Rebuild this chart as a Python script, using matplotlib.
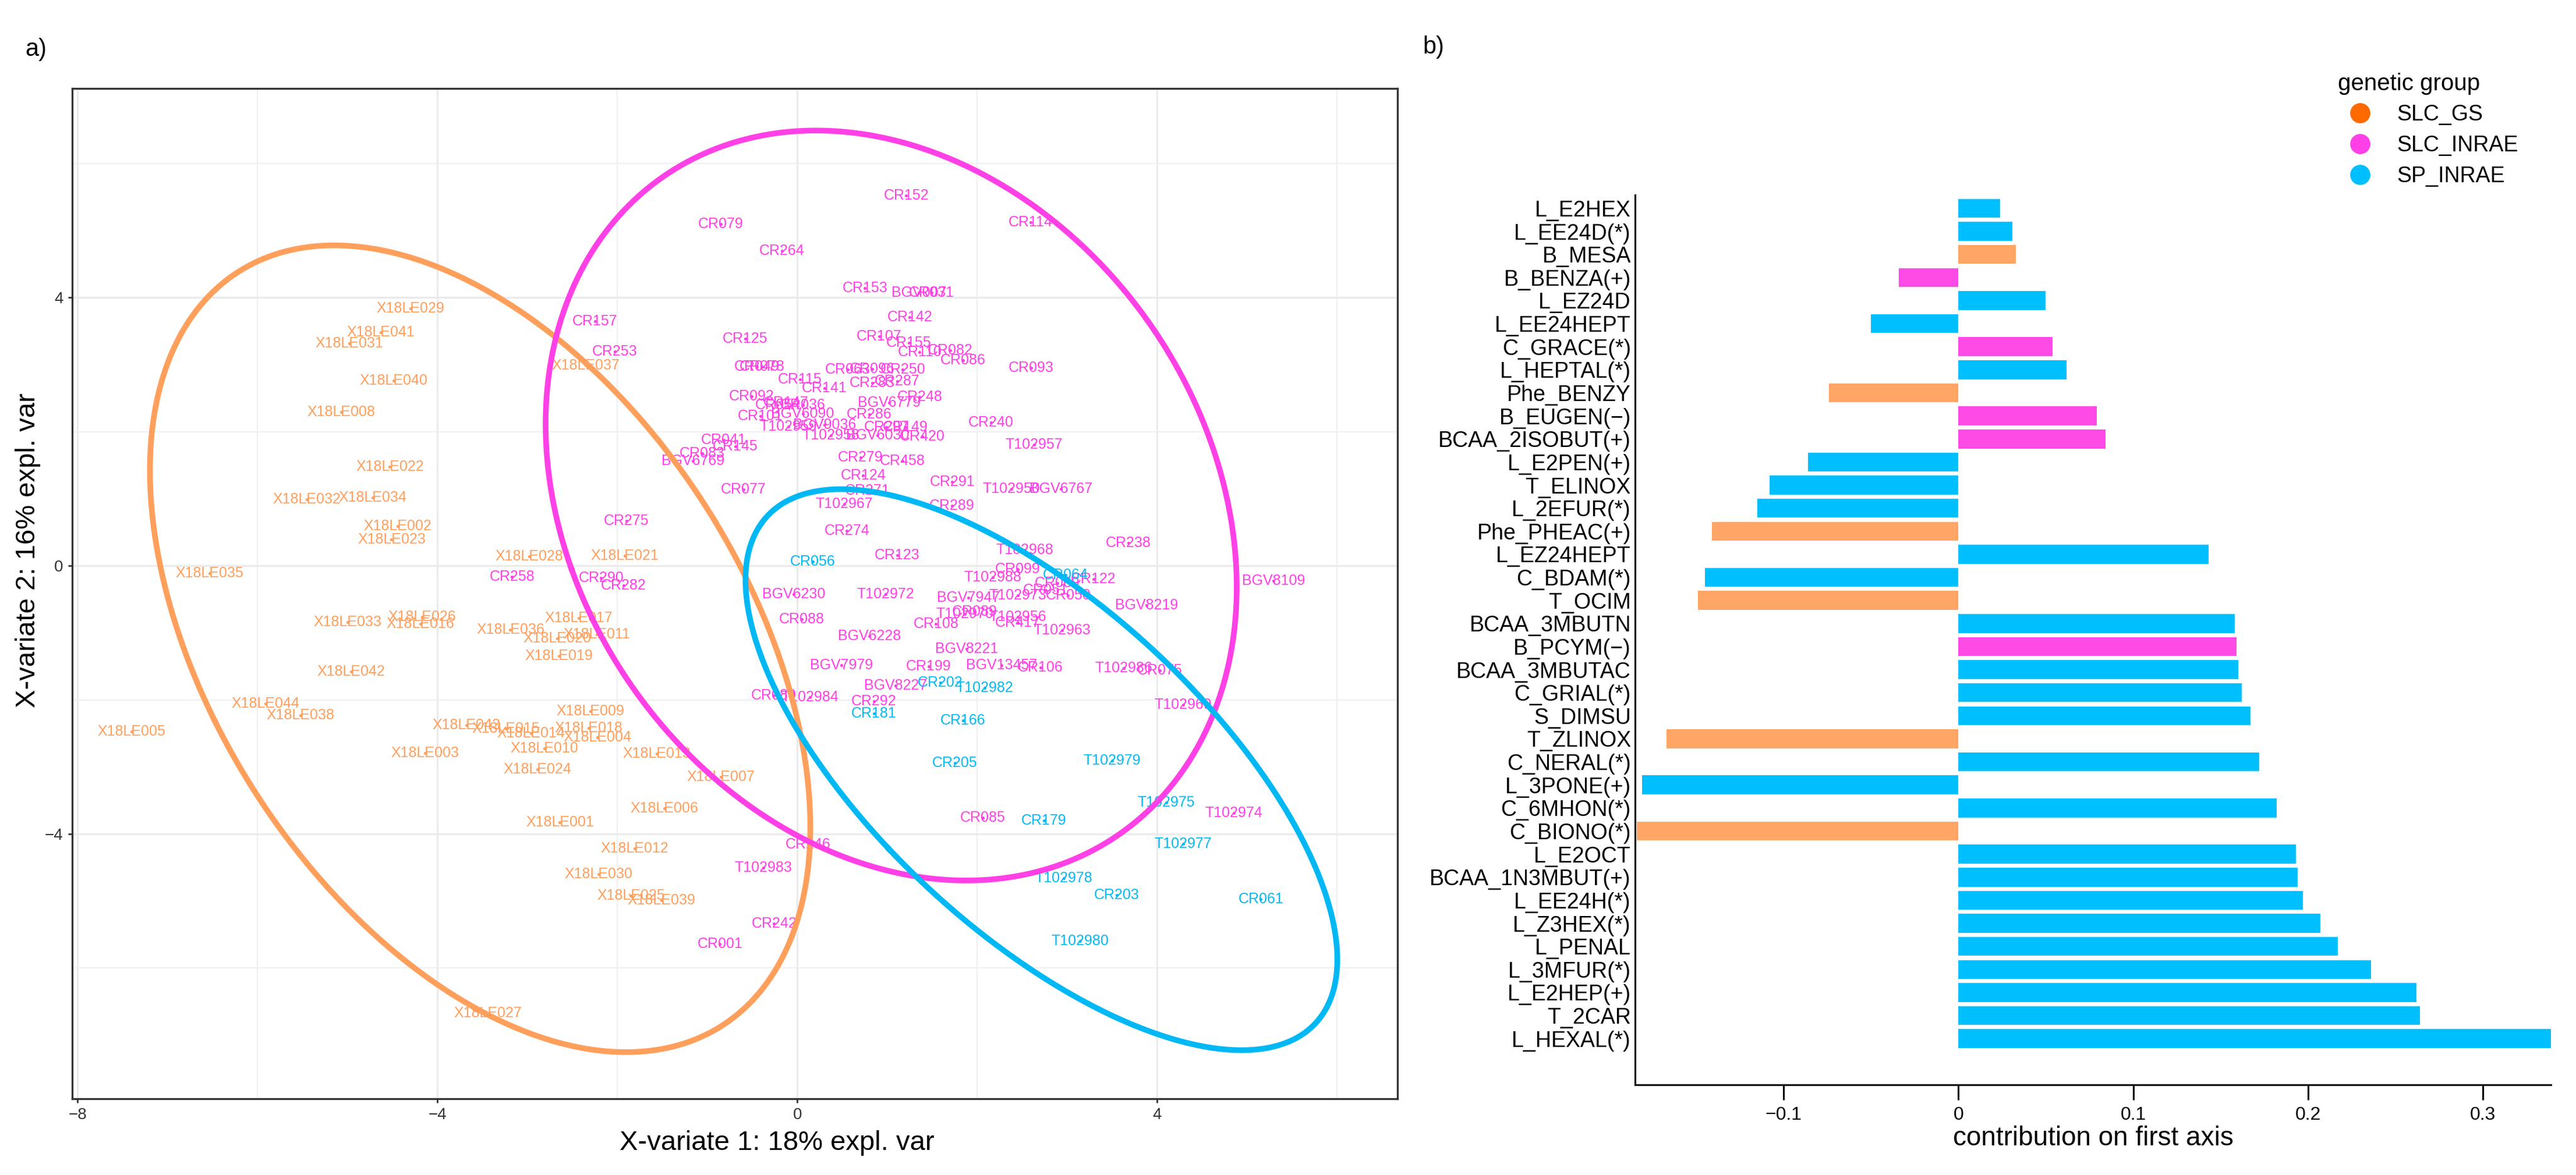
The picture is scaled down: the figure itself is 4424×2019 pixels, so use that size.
import numpy as np
import matplotlib
matplotlib.use("Agg")
import matplotlib.pyplot as plt
from matplotlib.lines import Line2D

plt.rcParams['font.family'] = ['Liberation Sans', 'DejaVu Sans']

# ---- panel a: individuals on the first two X-variates ----
GROUPS = ["SLC_GS", "SLC_INRAE", "SP_INRAE"]

gs_names = ["X18LE029", "X18LE041", "X18LE031", "X18LE037", "X18LE040", "X18LE008",
            "X18LE022", "X18LE032", "X18LE034", "X18LE002", "X18LE023", "X18LE028",
            "X18LE021", "X18LE035", "X18LE033", "X18LE026", "X18LE016", "X18LE036",
            "X18LE017", "X18LE011", "X18LE020", "X18LE019", "X18LE042", "X18LE044",
            "X18LE038", "X18LE005", "X18LE043", "X18LE015", "X18LE014", "X18LE018",
            "X18LE009", "X18LE004", "X18LE003", "X18LE010", "X18LE013", "X18LE024",
            "X18LE007", "X18LE006", "X18LE001", "X18LE012", "X18LE030", "X18LE025",
            "X18LE039", "X18LE027"]
gs_x = [-4.30, -4.63, -4.98, -2.35, -4.49, -5.07, -4.53, -5.45, -4.72, -4.44, -4.51, -2.98,
        -1.92, -6.53, -5.00, -4.17, -4.19, -3.19, -2.43, -2.23, -2.67, -2.65, -4.96, -5.91,
        -5.52, -7.40, -3.68, -3.24, -2.96, -2.32, -2.30, -2.22, -4.14, -2.81, -1.56, -2.89,
        -0.85, -1.48, -2.64, -1.81, -2.21, -1.85, -1.51, -3.44]
gs_y = [3.84, 3.48, 3.32, 2.99, 2.76, 2.29, 1.48, 0.99, 1.02, 0.59, 0.39, 0.14,
        0.15, -0.11, -0.84, -0.76, -0.87, -0.95, -0.78, -1.02, -1.08, -1.34, -1.58, -2.06,
        -2.23, -2.47, -2.38, -2.43, -2.50, -2.42, -2.17, -2.56, -2.79, -2.72, -2.80, -3.04,
        -3.15, -3.62, -3.83, -4.22, -4.60, -4.92, -4.99, -6.67]

inrae_names = ["CR079", "CR264", "CR152", "CR114", "CR153", "BGV007", "CR031", "CR142",
               "CR157", "CR253", "CR125", "CR107", "CR155", "CR110", "CR082", "CR086",
               "CR093", "CR049", "CR078", "CR115", "CR141", "CR063", "CR096", "CR250",
               "CR283", "CR287", "CR248", "BGV6779", "CR092", "CR147", "CR054", "CR036",
               "CR101", "BGV6090", "CR286", "T102959", "BGV9036", "T102958", "BGV6030",
               "CR297", "CR149", "CR420", "CR240", "T102957", "CR041", "CR145", "CR083",
               "BGV6769", "CR279", "CR458", "CR124", "CR291", "T102950", "BGV6767", "CR077",
               "CR271", "T102967", "CR289", "CR274", "CR275", "CR238", "T102968", "CR123",
               "CR258", "CR290", "CR282", "BGV8109", "CR099", "T102988", "CR122", "CR069",
               "CR051", "T102973", "CR050", "BGV7947", "BGV8219", "CR089", "T102970",
               "T102956", "CR417", "T102963", "CR108", "T102972", "BGV6230", "CR088",
               "BGV6228", "BGV8221", "BGV7979", "CR199", "BGV13457", "CR106", "T102986",
               "CR075", "BGV8227", "T102969", "CR292", "CR080", "T102984", "CR085",
               "T102974", "CR246", "T102983", "CR242", "CR001"]
inrae_x = [-0.85, -0.17, 1.21, 2.59, 0.75, 1.35, 1.49, 1.25, -2.25, -2.03, -0.58, 0.91,
           1.24, 1.36, 1.70, 1.84, 2.60, -0.45, -0.39, 0.03, 0.30, 0.56, 0.83, 1.17,
           0.83, 1.11, 1.36, 1.02, -0.51, -0.13, -0.22, 0.06, -0.41, 0.06, 0.80, -0.10,
           0.30, 0.37, 0.89, 0.99, 1.20, 1.39, 2.15, 2.63, -0.82, -0.69, -1.06, -1.16,
           0.70, 1.17, 0.73, 1.72, 2.38, 2.93, -0.60, 0.78, 0.52, 1.72, 0.55, -1.90,
           3.68, 2.53, 1.11, -3.17, -2.18, -1.93, 5.29, 2.45, 2.17, 3.29, 2.89, 2.76,
           2.45, 3.01, 1.90, 3.88, 1.97, 1.86, 2.45, 2.45, 2.94, 1.54, 0.98, -0.04,
           0.05, 0.80, 1.88, 0.49, 1.46, 2.27, 2.70, 3.63, 4.03, 1.09, 4.29, 0.85,
           -0.26, 0.14, 2.06, 4.85, 0.12, -0.38, -0.26, -0.86]
inrae_y = [5.10, 4.70, 5.52, 5.12, 4.14, 4.07, 4.07, 3.71, 3.65, 3.20, 3.39, 3.42,
           3.33, 3.19, 3.21, 3.07, 2.95, 2.97, 2.97, 2.78, 2.65, 2.93, 2.94, 2.93,
           2.73, 2.75, 2.52, 2.43, 2.53, 2.43, 2.40, 2.40, 2.23, 2.27, 2.26, 2.08,
           2.10, 1.95, 1.95, 2.07, 2.07, 1.93, 2.14, 1.81, 1.88, 1.78, 1.68, 1.56,
           1.62, 1.56, 1.35, 1.25, 1.15, 1.15, 1.14, 1.12, 0.92, 0.90, 0.52, 0.67,
           0.34, 0.24, 0.16, -0.16, -0.18, -0.29, -0.22, -0.05, -0.17, -0.20, -0.26, -0.36,
           -0.44, -0.44, -0.48, -0.59, -0.68, -0.72, -0.76, -0.85, -0.96, -0.87, -0.42, -0.42,
           -0.80, -1.05, -1.24, -1.48, -1.50, -1.48, -1.52, -1.53, -1.56, -1.79, -2.07, -2.02,
           -1.93, -1.96, -3.76, -3.69, -4.16, -4.50, -5.34, -5.64]

sp_names = ["CR056", "CR064", "CR202", "T102982", "CR181", "CR166", "CR205", "T102979",
            "T102975", "CR179", "T102977", "T102978", "CR203", "CR061", "T102980"]
sp_x = [0.17, 2.98, 1.59, 2.08, 0.85, 1.84, 1.75, 3.50, 4.10, 2.74, 4.29, 2.96, 3.55, 5.15, 3.14]
sp_y = [0.06, -0.14, -1.74, -1.82, -2.20, -2.31, -2.94, -2.91, -3.53, -3.80, -4.15, -4.66,
        -4.91, -4.97, -5.60]

# ---- panel b: loadings on the first axis ----
variables = ["L_E2HEX", "L_EE24D(*)", "B_MESA", "B_BENZA(+)", "L_EZ24D", "L_EE24HEPT",
             "C_GRACE(*)", "L_HEPTAL(*)", "Phe_BENZY", "B_EUGEN(\u2212)", "BCAA_2ISOBUT(+)",
             "L_E2PEN(+)", "T_ELINOX", "L_2EFUR(*)", "Phe_PHEAC(+)", "L_EZ24HEPT", "C_BDAM(*)",
             "T_OCIM", "BCAA_3MBUTN", "B_PCYM(\u2212)", "BCAA_3MBUTAC", "C_GRIAL(*)", "S_DIMSU",
             "T_ZLINOX", "C_NERAL(*)", "L_3PONE(+)", "C_6MHON(*)", "C_BIONO(*)", "L_E2OCT",
             "BCAA_1N3MBUT(+)", "L_EE24H(*)", "L_Z3HEX(*)", "L_PENAL", "L_3MFUR(*)",
             "L_E2HEP(+)", "T_2CAR", "L_HEXAL(*)"]
contrib = [0.024, 0.031, 0.033, -0.034, 0.050, -0.050, 0.054, 0.062, -0.074, 0.079, 0.084,
           -0.086, -0.108, -0.115, -0.141, 0.143, -0.145, -0.149, 0.158, 0.159, 0.160, 0.162,
           0.167, -0.167, 0.172, -0.181, 0.182, -0.184, 0.193, 0.194, 0.197, 0.207, 0.217,
           0.236, 0.262, 0.264, 0.339]
contrib_group = ["SP_INRAE", "SP_INRAE", "SLC_GS", "SLC_INRAE", "SP_INRAE", "SP_INRAE",
                 "SLC_INRAE", "SP_INRAE", "SLC_GS", "SLC_INRAE", "SLC_INRAE", "SP_INRAE",
                 "SP_INRAE", "SP_INRAE", "SLC_GS", "SP_INRAE", "SP_INRAE", "SLC_GS",
                 "SP_INRAE", "SLC_INRAE", "SP_INRAE", "SP_INRAE", "SP_INRAE", "SLC_GS",
                 "SP_INRAE", "SP_INRAE", "SP_INRAE", "SLC_GS", "SP_INRAE", "SP_INRAE",
                 "SP_INRAE", "SP_INRAE", "SP_INRAE", "SP_INRAE", "SP_INRAE", "SP_INRAE",
                 "SP_INRAE"]

line_col = {"SLC_GS": "#FF9F5C", "SLC_INRAE": "#FF40E6", "SP_INRAE": "#00B8F4"}
bar_col = {"SLC_GS": "#FFA566", "SLC_INRAE": "#FF4BE6", "SP_INRAE": "#00BFFF"}
legend_col = {"SLC_GS": "#FF6A00", "SLC_INRAE": "#FF40E6", "SP_INRAE": "#00BFFF"}


def conf_ellipse(x, y, t=2.4477, n=300):
    # 95% normal ellipse from the covariance of the points
    x = np.asarray(x); y = np.asarray(y)
    vals, vecs = np.linalg.eigh(np.cov(x, y))
    a = np.linspace(0, 2 * np.pi, n)
    circ = np.stack([np.cos(a), np.sin(a)]) * np.sqrt(vals)[:, None] * t
    pts = vecs @ circ
    return pts[0] + x.mean(), pts[1] + y.mean()


fig = plt.figure(figsize=(44.24, 20.19), dpi=100)

ax1 = fig.add_axes([0.0280, 0.0649, 0.5145, 0.8598])
ax1.set_xlim(-8.06, 6.67)
ax1.set_ylim(-7.95, 7.12)
ax1.set_xticks([-8, -4, 0, 4])
ax1.set_yticks([-4, 0, 4])
ax1.set_xticks([-6, -2, 2, 6], minor=True)
ax1.set_yticks([-6, -2, 2, 6], minor=True)
ax1.grid(which='major', color='#EBEBEB', lw=2.4)
ax1.grid(which='minor', color='#F0F0F0', lw=1.5)
ax1.set_axisbelow(True)
ax1.tick_params(which='minor', length=0)
ax1.tick_params(which='major', direction='out', length=5, width=2, color='#333333',
                labelsize=20, labelcolor='#333333', pad=6)
for s in ax1.spines.values():
    s.set_color('#333333')
    s.set_linewidth(2.4)

groups = [(gs_names, gs_x, gs_y, "SLC_GS"),
          (inrae_names, inrae_x, inrae_y, "SLC_INRAE"),
          (sp_names, sp_x, sp_y, "SP_INRAE")]
for names, xs, ys, g in groups:
    c = line_col[g]
    ax1.scatter(xs, ys, s=7, color=c, zorder=3)
    for nm, xx, yy in zip(names, xs, ys):
        ax1.text(xx, yy, nm, color=c, fontsize=18, ha='center', va='center', zorder=3)
for names, xs, ys, g in groups:
    ex, ey = conf_ellipse(xs, ys)
    ax1.plot(ex, ey, color=line_col[g], lw=7, zorder=4)

ax1.set_xlabel("X-variate 1: 18% expl. var", fontsize=34)
ax1.xaxis.set_label_coords(0.532, -0.044)
ax1.xaxis.label.set_va('center')
ax1.set_ylabel("X-variate 2: 16% expl. var", fontsize=34)
ax1.yaxis.set_label_coords(-0.0334, 0.543)
ax1.yaxis.label.set_va('center')

# ---- panel b ----
ax2 = fig.add_axes([0.6347, 0.0768, 0.3556, 0.7573])
pos = np.arange(len(variables))
ax2.barh(pos, contrib, height=0.82, color=[bar_col[g] for g in contrib_group])
ax2.set_ylim(38.0, -0.58)
ax2.set_xlim(-0.185, 0.339)
ax2.set_yticks(pos, variables)
ax2.set_xticks([-0.1, 0, 0.1, 0.2, 0.3], ["\u22120.1", "0", "0.1", "0.2", "0.3"])
ax2.tick_params(axis='y', length=0, labelsize=27, pad=5)
ax2.tick_params(axis='x', direction='out', length=19, width=2.2, labelsize=23, pad=8)
ax2.spines['top'].set_visible(False)
ax2.spines['right'].set_visible(False)
ax2.spines['left'].set_linewidth(2.2)
ax2.spines['bottom'].set_linewidth(2.2)
ax2.set_xlabel("contribution on first axis", fontsize=33, labelpad=2)

handles = [Line2D([], [], marker='o', ls='', markersize=24, color=legend_col[g]) for g in GROUPS]
fig.legend(handles, GROUPS, title="genetic group", loc='upper left',
           bbox_to_anchor=(0.900, 0.955), frameon=False, fontsize=27, title_fontsize=29,
           alignment='left', labelspacing=0.45, handletextpad=0.7)

fig.text(0.0097, 0.958, "a)", fontsize=30, ha='left', va='center')
fig.text(0.5522, 0.960, "b)", fontsize=30, ha='left', va='center')

fig.savefig("out.png", dpi=100, facecolor='white')
